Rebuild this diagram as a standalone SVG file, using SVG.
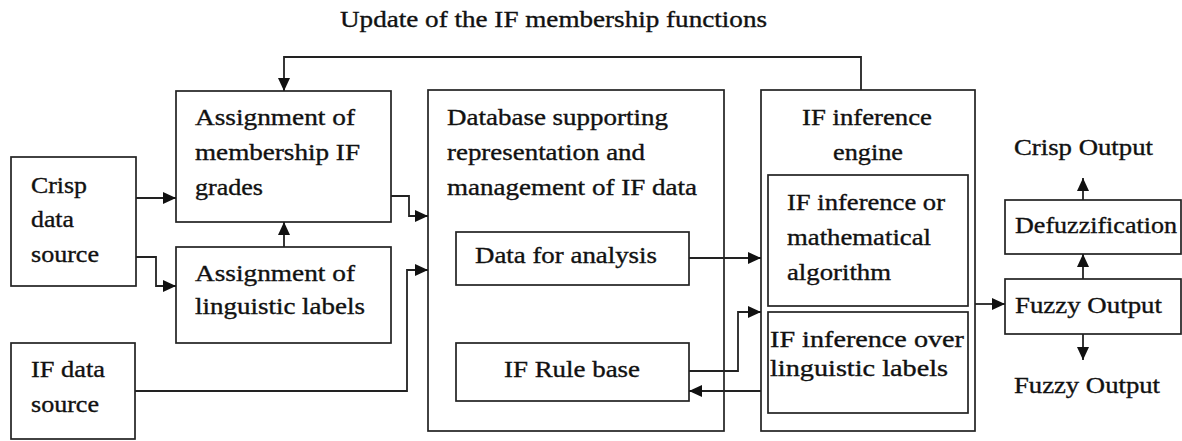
<svg xmlns="http://www.w3.org/2000/svg" width="1182" height="441" viewBox="0 0 1182 441">
<style>
.b{fill:#fff;stroke:#222;stroke-width:1.7}
.t{font-family:"Liberation Serif","Times New Roman",serif;font-size:23px;fill:#111;stroke:#111;stroke-width:0.35}
.c{fill:none;stroke:#222;stroke-width:1.8}
</style>
<defs>
<marker id="ah" markerUnits="userSpaceOnUse" markerWidth="13" markerHeight="12" refX="13" refY="6" orient="auto">
<path d="M0,0 L13,6 L0,12 z" fill="#111"/>
</marker>
</defs>
<rect width="1182" height="441" fill="#fff"/>
<text class="t" x="340" y="27" font-size="24" textLength="427" lengthAdjust="spacingAndGlyphs">Update of the IF membership functions</text>

<g id="crisp">
<rect class="b" x="11" y="157" width="125" height="129"/>
<text class="t" x="31" y="193" textLength="56" lengthAdjust="spacingAndGlyphs">Crisp</text>
<text class="t" x="31" y="227" textLength="43" lengthAdjust="spacingAndGlyphs">data</text>
<text class="t" x="31" y="262" textLength="68" lengthAdjust="spacingAndGlyphs">source</text>
</g>
<g id="ifdata">
<rect class="b" x="11" y="343" width="124" height="96"/>
<text class="t" x="31" y="377" textLength="74" lengthAdjust="spacingAndGlyphs">IF data</text>
<text class="t" x="31" y="412" textLength="68" lengthAdjust="spacingAndGlyphs">source</text>
</g>
<g id="membership">
<rect class="b" x="176" y="91" width="215" height="131"/>
<text class="t" x="195" y="125" textLength="160" lengthAdjust="spacingAndGlyphs">Assignment of</text>
<text class="t" x="195" y="160" textLength="165" lengthAdjust="spacingAndGlyphs">membership IF</text>
<text class="t" x="195" y="195" textLength="68" lengthAdjust="spacingAndGlyphs">grades</text>
</g>
<g id="linguistic">
<rect class="b" x="176" y="247" width="215" height="96"/>
<text class="t" x="195" y="281" textLength="160" lengthAdjust="spacingAndGlyphs">Assignment of</text>
<text class="t" x="195" y="314" textLength="170" lengthAdjust="spacingAndGlyphs">linguistic labels</text>
</g>
<g id="database">
<rect class="b" x="428" y="90" width="296" height="341"/>
<text class="t" x="447" y="125" textLength="221" lengthAdjust="spacingAndGlyphs">Database supporting</text>
<text class="t" x="447" y="160" textLength="198" lengthAdjust="spacingAndGlyphs">representation and</text>
<text class="t" x="447" y="195" textLength="250" lengthAdjust="spacingAndGlyphs">management of IF data</text>
</g>
<g id="dataanalysis">
<rect class="b" x="456" y="232" width="233" height="53"/>
<text class="t" x="475" y="263" textLength="182" lengthAdjust="spacingAndGlyphs">Data for analysis</text>
</g>
<g id="rulebase">
<rect class="b" x="456" y="343" width="233" height="58"/>
<text class="t" x="504" y="377" textLength="136" lengthAdjust="spacingAndGlyphs">IF Rule base</text>
</g>
<g id="engine">
<rect class="b" x="761" y="90" width="214" height="341"/>
<text class="t" x="802" y="125" textLength="130" lengthAdjust="spacingAndGlyphs">IF inference</text>
<text class="t" x="833" y="160" textLength="70" lengthAdjust="spacingAndGlyphs">engine</text>
</g>
<g id="mathalg">
<rect class="b" x="768" y="175" width="200" height="131"/>
<text class="t" x="787" y="210" textLength="158" lengthAdjust="spacingAndGlyphs">IF inference or</text>
<text class="t" x="787" y="245" textLength="144" lengthAdjust="spacingAndGlyphs">mathematical</text>
<text class="t" x="787" y="280" textLength="104" lengthAdjust="spacingAndGlyphs">algorithm</text>
</g>
<g id="overling">
<rect class="b" x="768" y="312" width="200" height="101"/>
<text class="t" x="770" y="347" textLength="194" lengthAdjust="spacingAndGlyphs">IF inference over</text>
<text class="t" x="770" y="376" textLength="178" lengthAdjust="spacingAndGlyphs">linguistic labels</text>
</g>
<g id="defuzz">
<rect class="b" x="1005" y="200" width="176" height="54"/>
<text class="t" x="1015" y="233" textLength="162" lengthAdjust="spacingAndGlyphs">Defuzzification</text>
</g>
<g id="fuzzyout">
<rect class="b" x="1005" y="279" width="176" height="55"/>
<text class="t" x="1015" y="313" textLength="147" lengthAdjust="spacingAndGlyphs">Fuzzy Output</text>
</g>
<g id="crispout">
<text class="t" x="1014" y="155" textLength="139" lengthAdjust="spacingAndGlyphs">Crisp Output</text>
</g>
<g id="fuzzyout2">
<text class="t" x="1014" y="393" textLength="146" lengthAdjust="spacingAndGlyphs">Fuzzy Output</text>
</g>

<g id="connectors">
<path class="c" d="M861,90 V57 H284 V91" marker-end="url(#ah)"/>
<path class="c" d="M136,198 H176" marker-end="url(#ah)"/>
<path class="c" d="M136,257 H156 V286 H176" marker-end="url(#ah)"/>
<path class="c" d="M284,247 V222" marker-end="url(#ah)"/>
<path class="c" d="M391,196 H409 V216 H428" marker-end="url(#ah)"/>
<path class="c" d="M135,391 H407 V270 H428" marker-end="url(#ah)"/>
<path class="c" d="M689,258 H761" marker-end="url(#ah)"/>
<path class="c" d="M689,371 H738 V312 H761" marker-end="url(#ah)"/>
<path class="c" d="M761,391 H689" marker-end="url(#ah)"/>
<path class="c" d="M975,304 H1005" marker-end="url(#ah)"/>
<path class="c" d="M1083,279 V254" marker-end="url(#ah)"/>
<path class="c" d="M1083,200 V178" marker-end="url(#ah)"/>
<path class="c" d="M1083,334 V360" marker-end="url(#ah)"/>
</g>
</svg>
